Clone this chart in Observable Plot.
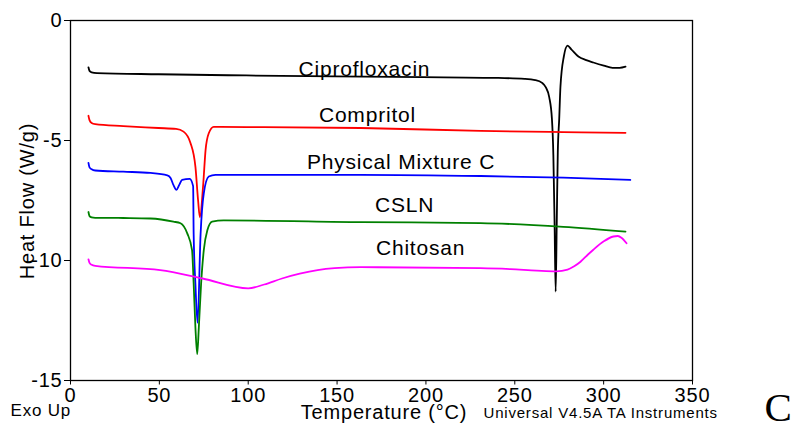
<!DOCTYPE html>
<html><head><meta charset="utf-8">
<script src="https://cdn.jsdelivr.net/npm/d3@7"></script>
<script src="https://cdn.jsdelivr.net/npm/@observablehq/plot@0.6"></script>
<style>body{margin:0;background:#fff}</style>
</head><body><div id="chart"></div>
<script>
const xTicks = [0, 50, 100, 150, 200, 250, 300, 350];
const yTicks = [-15, -10, -5, 0];

const seriesNames = ["Ciprofloxacin", "Compritol", "Physical Mixture C", "CSLN", "Chitosan"];
const seriesColors = ["#000000", "#ff0000", "#0000ff", "#008000", "#ff00ff"];

// [Temperature (°C), Heat Flow (W/g)]
const cipro = [[10.1,-1.95],[10.7,-2.1],[11.9,-2.16],[14.9,-2.19],[49.5,-2.24],[99,-2.29],[148.6,-2.33],[198,-2.36],[237.7,-2.39],[255.5,-2.43],[261.5,-2.48],[265.4,-2.6],[267.4,-2.78],[269.4,-3.2],[270.9,-4.1],[271.7,-5.6],[272.4,-8.5],[273,-11.3],[273.6,-8.5],[274.2,-5.5],[275,-4.1],[275.7,-2.75],[277.6,-1.5],[279.7,-1.05],[281.8,-1.2],[285.8,-1.5],[290.2,-1.65],[294.2,-1.75],[300.1,-1.88],[305,-1.97],[309,-1.97],[312.3,-1.92]];
const compritol = [[10.1,-3.97],[10.7,-4.15],[11.9,-4.27],[13.9,-4.32],[29.7,-4.4],[49.5,-4.48],[59.4,-4.52],[63.6,-4.63],[67.5,-5.1],[70.3,-6.1],[71.8,-7.5],[72.8,-8.2],[74.7,-6.8],[76,-5.4],[77.8,-4.7],[80.6,-4.43],[99,-4.44],[163.4,-4.48],[230.8,-4.6],[277.3,-4.65],[312.3,-4.68]];
const mixture = [[10.1,-5.93],[10.7,-6.12],[11.9,-6.2],[13.9,-6.25],[29.7,-6.3],[45,-6.35],[54.5,-6.45],[56.3,-6.56],[57.9,-6.85],[59.6,-7.06],[61.2,-6.85],[62.8,-6.64],[67.1,-6.6],[69,-6.9],[69.3,-8.9],[70.3,-11],[71.5,-12.6],[73.2,-8.9],[75,-7.2],[77.8,-6.5],[81.6,-6.43],[99,-6.43],[163.4,-6.43],[230.8,-6.48],[277.3,-6.55],[315,-6.64]];
const csln = [[10.1,-7.98],[10.7,-8.15],[11.9,-8.2],[13.9,-8.22],[29.7,-8.23],[45,-8.25],[57.9,-8.38],[61.9,-8.45],[65.7,-8.87],[68.4,-9.57],[69.3,-10.96],[70.3,-12.8],[71.3,-13.9],[72.2,-12.8],[73.5,-10.96],[75,-9.57],[77,-8.74],[79.7,-8.38],[86.2,-8.33],[163.4,-8.4],[230.8,-8.44],[277.3,-8.6],[312.3,-8.8]];
const chitosan = [[10.1,-9.95],[10.7,-10.1],[11.9,-10.18],[13.9,-10.22],[50.5,-10.4],[74.3,-10.75],[100,-11.16],[109,-11.0],[119,-10.75],[129,-10.55],[139,-10.4],[148.6,-10.32],[163.4,-10.28],[230.8,-10.32],[247.6,-10.36],[262.4,-10.42],[273.3,-10.45],[279.7,-10.38],[283.2,-10.25],[287,-10.05],[291.2,-9.75],[294.2,-9.55],[300.1,-9.2],[305.5,-9.0],[308,-8.98],[310,-9.05],[312.9,-9.28]];

const labelT = [165.4, 167.1, 186, 188, 197];
const labelHF = [-2.02, -3.93, -5.92, -7.70, -9.47];

const seriesData = [cipro, compritol, mixture, csln, chitosan];
const rows = seriesData.flatMap((pts, i) => pts.map(([t, hf]) => ({series: seriesNames[i], t, hf})));
const labels = seriesNames.map((name, i) => ({name, t: labelT[i], hf: labelHF[i]}));

const chart = Plot.plot({
  width: 791, height: 423,
  marginLeft: 70, marginRight: 99, marginTop: 20, marginBottom: 43,
  style: {fontFamily: "'Liberation Sans', Arial, sans-serif", background: "#fff", color: "#000", letterSpacing: "0.8px"},
  x: {domain: [0, 350]},
  y: {domain: [-15, 0]},
  color: {domain: seriesNames, range: seriesColors},
  marks: [
    Plot.frame({stroke: "#000", strokeWidth: 1.3}),
    Plot.axisX({ticks: xTicks, tickSize: 4.5, tickPadding: 3, fontSize: 20, label: null, tickFormat: d => String(d)}),
    Plot.axisY({ticks: yTicks, tickSize: 6, tickPadding: 2, fontSize: 20, label: null, tickFormat: d => String(d)}),
    Plot.line(rows, {x: "t", y: "hf", z: "series", stroke: "series", strokeWidth: 1.8, curve: "monotone-x"}),
    Plot.text(labels, {x: "t", y: "hf", text: "name", fontSize: 21, fill: "#000", lineAnchor: "middle", ariaLabel: "series labels"}),
    Plot.text(["Heat Flow (W/g)"], {text: d => d, frameAnchor: "left", textAnchor: "middle", lineAnchor: "middle", rotate: -90, dx: -43.4, dy: 0.5, fontSize: 20, fill: "#000", ariaLabel: "y title"}),
    Plot.text(["Temperature (°C)"], {text: d => d, frameAnchor: "bottom", textAnchor: "middle", lineAnchor: "middle", dx: 2.5, dy: 32.5, fontSize: 20, fill: "#000", ariaLabel: "x title"}),
    Plot.text(["Exo Up"], {text: d => d, frameAnchor: "bottom-left", textAnchor: "start", lineAnchor: "middle", dx: -60, dy: 30.3, fontSize: 17, fill: "#000", ariaLabel: "exo"}),
    Plot.text(["Universal V4.5A TA Instruments"], {text: d => d, frameAnchor: "bottom-right", textAnchor: "start", lineAnchor: "middle", dx: -209, dy: 32.5, fontSize: 15, fill: "#000", ariaLabel: "instrument"}),
    Plot.text(["C"], {text: d => d, frameAnchor: "bottom-right", textAnchor: "start", lineAnchor: "middle", dx: 72, dy: 26.9, fontSize: 41, fontFamily: "'Liberation Serif', 'Times New Roman', serif", fill: "#000", ariaLabel: "corner"})
  ]
});

const s = d3.select(chart);
s.select('g[aria-label="y title"]').style("letter-spacing", "0px");
s.select('g[aria-label="x title"]').style("letter-spacing", "2px");
s.select('g[aria-label="exo"]').style("letter-spacing", "1px");
s.select('g[aria-label="instrument"]').style("letter-spacing", "2px");
s.select('g[aria-label="corner"]').style("letter-spacing", "0px");
s.select('g[aria-label="series labels"]').style("letter-spacing", "1.2px");
document.getElementById("chart").appendChild(chart);
</script>
</body></html>
